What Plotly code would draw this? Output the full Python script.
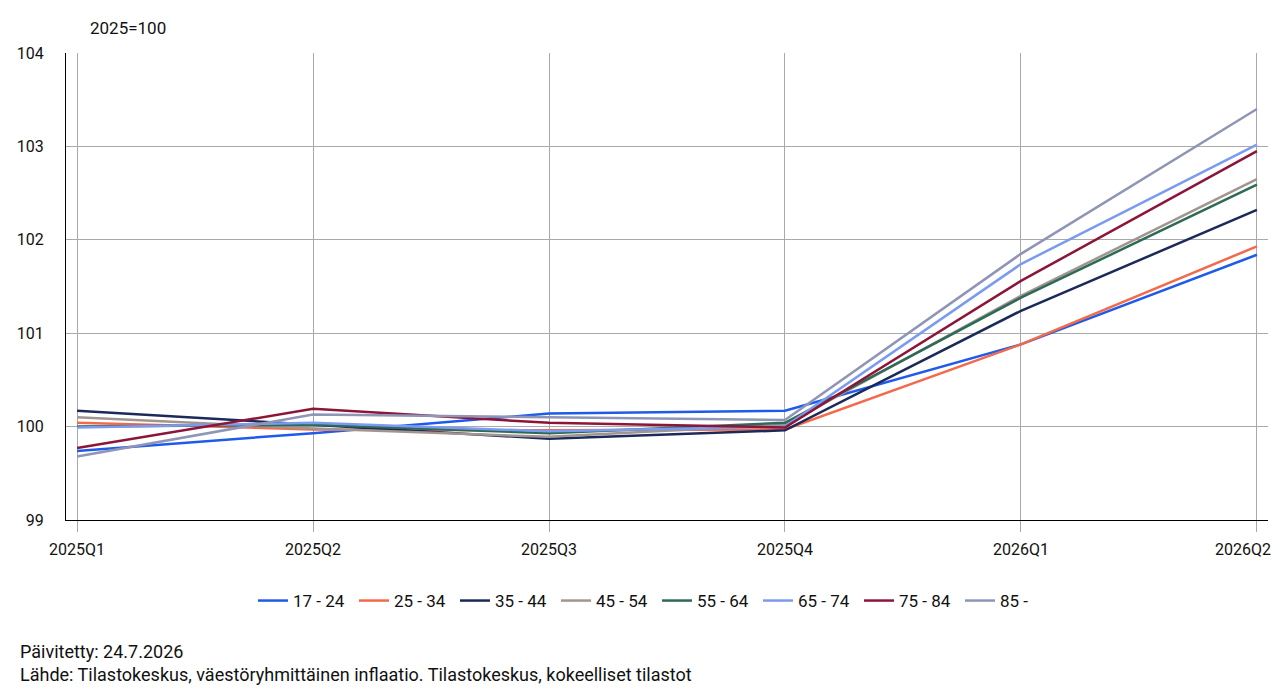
import plotly.graph_objects as go

quarters = ["2025Q1", "2025Q2", "2025Q3", "2025Q4", "2026Q1", "2026Q2"]
groups = ["17 - 24", "25 - 34", "35 - 44", "45 - 54", "55 - 64", "65 - 74", "75 - 84", "85 -"]

v_17_24 = [99.74, 99.93, 100.14, 100.17, 100.88, 101.84]
v_25_34 = [100.04, 99.97, 99.96, 99.97, 100.88, 101.93]
v_35_44 = [100.17, 100.02, 99.87, 99.96, 101.24, 102.32]
v_45_54 = [100.10, 99.98, 99.89, 100.02, 101.40, 102.65]
v_55_64 = [100.00, 100.02, 99.93, 100.04, 101.38, 102.59]
v_65_74 = [99.99, 100.04, 99.95, 100.00, 101.74, 103.02]
v_75_84 = [99.77, 100.19, 100.04, 99.99, 101.56, 102.95]
v_85 = [99.68, 100.13, 100.10, 100.07, 101.85, 103.40]

series = [v_17_24, v_25_34, v_35_44, v_45_54, v_55_64, v_65_74, v_75_84, v_85]
colors = ["#1f5bea", "#f4694a", "#1c2a5a", "#a2958f", "#2d6a58", "#7b9bf0", "#8c1538", "#8f95b6"]

FONT = "Roboto, sans-serif"
xs = list(range(len(quarters)))

fig = go.Figure()
for name, vals, col in zip(groups, series, colors):
    fig.add_trace(go.Scatter(x=xs, y=vals, name=name, mode="lines",
                             line=dict(color=col, width=2.5)))

# last tick label is drawn right-aligned so it stays inside the page
ticktext = quarters[:-1] + [""]

fig.update_layout(
    width=1278, height=700,
    margin=dict(l=66, r=10, t=53, b=180),
    paper_bgcolor="white", plot_bgcolor="white",
    font=dict(family=FONT, size=16, color="#111"),
    showlegend=True,
    legend=dict(orientation="h", x=(657 - 66) / 1202, xanchor="center", y=-(601 - 520) / 467, yanchor="middle",
                font=dict(size=17), itemwidth=30, tracegroupgap=0,
                entrywidth=56, entrywidthmode="pixels"),
    xaxis=dict(tickmode="array", tickvals=xs, ticktext=ticktext,
               range=[-0.047, 5.047], showgrid=True, gridcolor="#a9a9a9", gridwidth=1,
               ticks="outside", ticklen=11, tickcolor="#a9a9a9", tickwidth=1,
               showline=True, linecolor="#000", linewidth=1, zeroline=False,
               ticklabelstandoff=4,
               ticklabeloverflow="allow", automargin=False, tickfont=dict(size=16)),
    yaxis=dict(range=[99, 104], dtick=1, showgrid=True, gridcolor="#a9a9a9", gridwidth=1,
               showline=True, linecolor="#000", linewidth=1, zeroline=False, automargin=False,
               ticks="", ticklabelstandoff=18, tickfont=dict(size=16)),
    annotations=[
        dict(text=quarters[-1], xref="x", yref="paper", x=xs[-1], xshift=16, y=-(549.5 - 520) / 467,
             xanchor="right", yanchor="middle", showarrow=False, font=dict(size=16)),
        dict(text="2025=100", xref="paper", yref="paper", x=(88 - 66) / 1202, y=1 + (53 - 28) / 467,
             xanchor="left", yanchor="middle", showarrow=False, font=dict(size=17)),
        dict(text="Päivitetty: 24.7.2026<br>Lähde: Tilastokeskus, väestöryhmittäinen inflaatio. Tilastokeskus, kokeelliset tilastot",
             xref="paper", yref="paper", x=(18 - 66) / 1202, y=-(639 - 520) / 467,
             xanchor="left", yanchor="top", align="left", showarrow=False, font=dict(size=18)),
    ],
)

fig.write_html("out.html")
